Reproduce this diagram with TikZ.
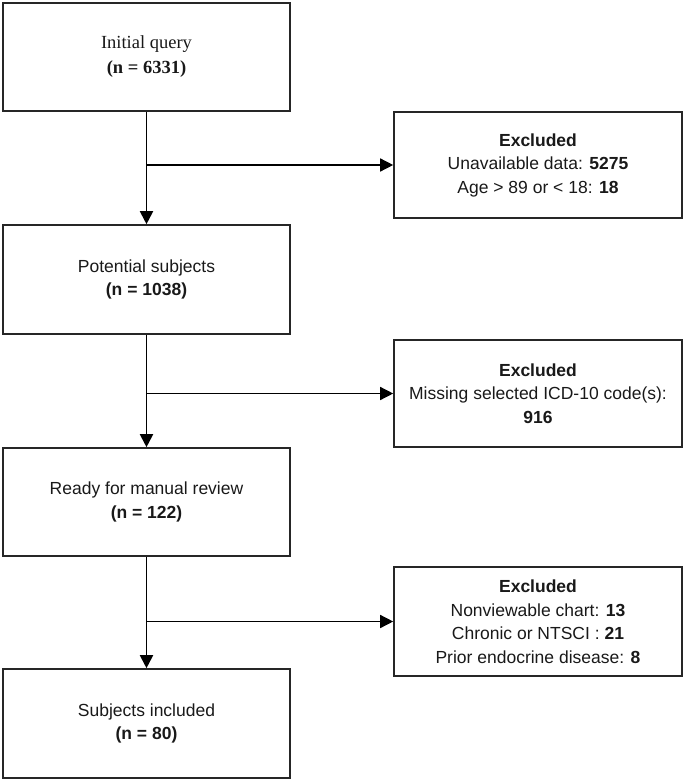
\documentclass[tikz,border=0pt]{standalone}
\usepackage{fontspec}
\setmainfont{Liberation Serif}
\setsansfont{Liberation Sans}
\usetikzlibrary{arrows.meta,positioning}

\begin{document}
\begin{tikzpicture}[x=1pt,y=-1pt]
    \tikzset{box/.style={draw=black!85,line width=1.6pt,minimum width=287pt,align=center,
        inner sep=0pt,font=\sffamily\fontsize{17.5}{23.5}\selectfont,text=black!90}}
    \tikzset{exbox/.style={box,minimum width=288pt}}
    \tikzset{flow/.style={line width=1.9pt,-{Triangle[length=13pt,width=13pt]}}}
    \tikzset{side/.style={line width=1.4pt,-{Triangle[length=13pt,width=13pt]}}}
    \useasboundingbox (0,0) rectangle (685,781);
    % main column
    \node[box,minimum height=108pt,font=\rmfamily\fontsize{18.5}{25}\selectfont] (init) at (146.5,57)
        {Initial query\\\textbf{(n = 6331)}};
    \node[box,minimum height=109pt] (pot) at (146.5,279.5) {Potential subjects\\\textbf{(n = 1038)}};
    \node[box,minimum height=108pt] (ready) at (146.5,502) {Ready for manual review\\\textbf{(n = 122)}};
    \node[box,minimum height=109pt] (incl) at (146.5,723.5) {Subjects included\\\textbf{(n = 80)}};
    % exclusions
    \node[exbox,minimum height=106pt] (exA) at (538,165)
        {\textbf{Excluded}\\Unavailable data: \textbf{5275}\\Age > 89 or < 18: \textbf{18}};
    \node[exbox,minimum height=107pt] (exB) at (538,393.5)
        {\textbf{Excluded}\\Missing selected ICD-10 code(s):\\\textbf{916}};
    \node[exbox,minimum height=109pt] (exC) at (538,621.5)
        {\textbf{Excluded}\\Nonviewable chart: \textbf{13}\\Chronic or NTSCI : \textbf{21}\\Prior endocrine disease: \textbf{8}};
    % arrows
    \draw[flow] (init) -- (pot);
    \draw[flow] (pot) -- (ready);
    \draw[flow] (ready) -- (incl);
    \draw[side] (init.south |- exA) -- (exA);
    \draw[side] (pot.south |- exB) -- (exB);
    \draw[side] (ready.south |- exC) -- (exC);
\end{tikzpicture}
\end{document}
